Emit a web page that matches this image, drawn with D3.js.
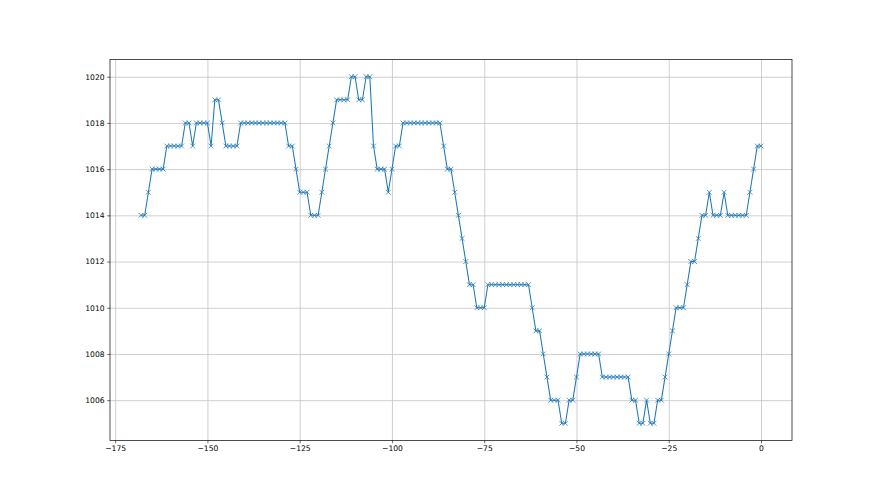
<!DOCTYPE html>
<html>
<head>
<meta charset="utf-8">
<script src="https://cdn.jsdelivr.net/npm/d3@7"></script>
<style>
  body { margin: 0; background: #fff; }
  svg { display: block; }
</style>
</head>
<body>
<div id="chart"></div>
<script>
// hours before now, one reading per hour
var hours = [
  -168,-167,-166,-165,-164,-163,-162,-161,-160,-159,
  -158,-157,-156,-155,-154,-153,-152,-151,-150,-149,
  -148,-147,-146,-145,-144,-143,-142,-141,-140,-139,
  -138,-137,-136,-135,-134,-133,-132,-131,-130,-129,
  -128,-127,-126,-125,-124,-123,-122,-121,-120,-119,
  -118,-117,-116,-115,-114,-113,-112,-111,-110,-109,
  -108,-107,-106,-105,-104,-103,-102,-101,-100,-99,
  -98,-97,-96,-95,-94,-93,-92,-91,-90,-89,
  -88,-87,-86,-85,-84,-83,-82,-81,-80,-79,
  -78,-77,-76,-75,-74,-73,-72,-71,-70,-69,
  -68,-67,-66,-65,-64,-63,-62,-61,-60,-59,
  -58,-57,-56,-55,-54,-53,-52,-51,-50,-49,
  -48,-47,-46,-45,-44,-43,-42,-41,-40,-39,
  -38,-37,-36,-35,-34,-33,-32,-31,-30,-29,
  -28,-27,-26,-25,-24,-23,-22,-21,-20,-19,
  -18,-17,-16,-15,-14,-13,-12,-11,-10,-9,
  -8,-7,-6,-5,-4,-3,-2,-1,0
];

// pressure readings
var pressure = [
  1014,1014,1015,1016,1016,1016,1016,1017,1017,1017,
  1017,1017,1018,1018,1017,1018,1018,1018,1018,1017,
  1019,1019,1018,1017,1017,1017,1017,1018,1018,1018,
  1018,1018,1018,1018,1018,1018,1018,1018,1018,1018,
  1017,1017,1016,1015,1015,1015,1014,1014,1014,1015,
  1016,1017,1018,1019,1019,1019,1019,1020,1020,1019,
  1019,1020,1020,1017,1016,1016,1016,1015,1016,1017,
  1017,1018,1018,1018,1018,1018,1018,1018,1018,1018,
  1018,1018,1017,1016,1016,1015,1014,1013,1012,1011,
  1011,1010,1010,1010,1011,1011,1011,1011,1011,1011,
  1011,1011,1011,1011,1011,1011,1010,1009,1009,1008,
  1007,1006,1006,1006,1005,1005,1006,1006,1007,1008,
  1008,1008,1008,1008,1008,1007,1007,1007,1007,1007,
  1007,1007,1007,1006,1006,1005,1005,1006,1005,1005,
  1006,1006,1007,1008,1009,1010,1010,1010,1011,1012,
  1012,1013,1014,1014,1015,1014,1014,1014,1015,1014,
  1014,1014,1014,1014,1014,1015,1016,1017,1017
];

var xTicks = [-175, -150, -125, -100, -75, -50, -25, 0];
var yTicks = [1006, 1008, 1010, 1012, 1014, 1016, 1018, 1020];

var blue = "#1f77b4";

//Set Margins
var margin = {top: 59.4, right: 88, bottom: 54.4, left: 110},
    width = 880 - margin.left - margin.right,
    height = 495 - margin.top - margin.bottom;

var svg = d3.select("#chart")
  .append("svg")
    .attr("width", 880)
    .attr("height", 495)
  .append("g")
    .attr("transform", "translate(" + margin.left + "," + margin.top + ")");

var data = hours.map(function(h, i) { return {h: h, p: pressure[i]}; });

// 5% padding like matplotlib autoscale
function padded(ext) {
  var pad = (ext[1] - ext[0]) * 0.05;
  return [ext[0] - pad, ext[1] + pad];
}

var x = d3.scaleLinear()
  .domain(padded(d3.extent(hours)))
  .range([0, width]);

var y = d3.scaleLinear()
  .domain(padded(d3.extent(pressure)))
  .range([height, 0]);

//Grid
svg.append("g")
  .attr("class", "grid")
  .attr("transform", "translate(0," + height + ")")
  .call(d3.axisBottom(x).tickValues(xTicks).tickSize(-height).tickFormat(""));
svg.append("g")
  .attr("class", "grid")
  .call(d3.axisLeft(y).tickValues(yTicks).tickSize(-width).tickFormat(""));
svg.selectAll(".grid .domain").remove();
svg.selectAll(".grid line")
  .attr("stroke", "#c4c4c4")
  .attr("stroke-width", 0.8);

//Line
svg.append("path")
  .datum(data)
  .attr("fill", "none")
  .attr("stroke", blue)
  .attr("stroke-width", 1.05)
  .attr("d", d3.line()
    .x(function(d) { return x(d.h); })
    .y(function(d) { return y(d.p); }));

//Markers
var m = 2.4;
svg.selectAll("path.mark")
  .data(data)
  .enter()
  .append("path")
    .attr("class", "mark")
    .attr("transform", function(d) { return "translate(" + x(d.h) + "," + y(d.p) + ")"; })
    .attr("d", "M" + (-m) + "," + (-m) + "L" + m + "," + m + "M" + (-m) + "," + m + "L" + m + "," + (-m))
    .attr("stroke", blue)
    .attr("stroke-width", 0.75)
    .attr("fill", "none");

//Axes
var xAxis = svg.append("g")
  .attr("transform", "translate(0," + height + ")")
  .call(d3.axisBottom(x).tickValues(xTicks).tickSize(2.7).tickPadding(2.8));
var yAxis = svg.append("g")
  .call(d3.axisLeft(y).tickValues(yTicks).tickSize(2.7).tickPadding(2.7).tickFormat(d3.format("d")));

[xAxis, yAxis].forEach(function(a) {
  a.select(".domain").remove();
  a.selectAll("line").attr("stroke", "#000").attr("stroke-width", 0.6);
  a.selectAll("text")
    .attr("fill", "#000")
    .style("font-family", "DejaVu Sans")
    .style("font-size", "7.6px");
});

//Frame
svg.append("rect")
  .attr("width", width)
  .attr("height", height)
  .attr("fill", "none")
  .attr("stroke", "#000")
  .attr("stroke-width", 0.7);
</script>
</body>
</html>
